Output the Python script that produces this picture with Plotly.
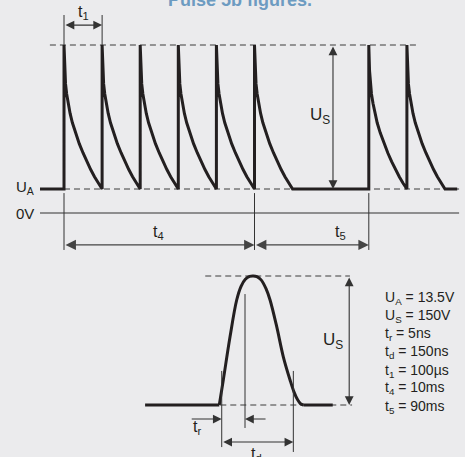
import plotly.graph_objects as go

# ---------------- data (diagram units) ----------------
# Top waveform: x in units of t1 (pulse spacing), y in diagram voltage units
pulse_starts = [0, 1, 2, 3, 4, 5, 8, 9]          # pulse start positions
level_0v = 0
level_ua = 1
level_us = 7
lead_in = -0.63                                   # where the U_A line starts
tail_end = 10.32                                  # end of waveform / 0V line
# decay shape (t normalised to t1, v normalised to U_S)
decay_t = [0, 0.02, 0.04, 0.07, 0.11, 0.16, 0.22, 0.3, 0.4, 0.5, 0.6, 0.7, 0.8, 0.9, 1.0]
decay_v = [1, 0.82, 0.73, 0.66, 0.595, 0.525, 0.46, 0.39, 0.315, 0.25, 0.19, 0.135, 0.085, 0.04, 0]

# Bottom single pulse: x normalised to t_d, y normalised to U_S
flat_left = [-1.07, -0.034]
flat_right = [1.14, 1.55]
pulse_x = [-0.034, 0.022, 0.116, 0.209, 0.27, 0.33, 0.39, 0.441, 0.49,
           0.55, 0.62, 0.675, 0.768, 0.86, 0.954, 1.01, 1.06, 1.10, 1.14]
pulse_y = [0, 0.194, 0.529, 0.814, 0.92, 0.975, 0.997, 1.0, 0.995,
           0.97, 0.90, 0.814, 0.607, 0.374, 0.194, 0.10, 0.04, 0.01, 0]
tr_end = 0.325

params = ["U<sub>A</sub> = 13.5V", "U<sub>S</sub> = 150V", "t<sub>r</sub> = 5ns",
          "t<sub>d</sub> = 150ns", "t<sub>1</sub> = 100µs", "t<sub>4</sub> = 10ms",
          "t<sub>5</sub> = 90ms"]

# ---------------- styles ----------------
BG = "#ebebed"
INK = "#231f20"
GREY = "#3a3a3a"
FONT = "Liberation Sans Narrow, Liberation Sans, Arial, sans-serif"

fig = go.Figure()

def line(xs, ys, ax="", width=1, color=GREY, dash=None, shape="linear"):
    fig.add_trace(go.Scatter(
        x=xs, y=ys, mode="lines", xaxis="x" + ax, yaxis="y" + ax,
        line=dict(color=color, width=width, dash=dash, shape=shape, smoothing=1),
        hoverinfo="skip", showlegend=False, cliponaxis=False))

DASH = "6px,4px"

# ---- top waveform ----
wx = [lead_in, pulse_starts[0]]
wy = [level_ua, level_ua]
for i, p in enumerate(pulse_starts):
    wx.append(p)
    wy.append(level_ua)
    for t, v in zip(decay_t, decay_v):
        wx.append(p + t)
        wy.append(level_ua + v * (level_us - level_ua))
wx.append(tail_end)
wy.append(level_ua)

# dashed reference lines
line([-0.37, 9.34], [level_us, level_us], dash=DASH)
line([0, tail_end + 0.05], [level_ua, level_ua], dash=DASH)
# 0V line
line([lead_in, tail_end + 0.05], [level_0v, level_0v], width=1.2, color="#333")
# waveform
line(wx, wy, width=3, color=INK)

# extension lines
for xv in [0, 1]:
    line([xv, xv], [level_us, 8.25], width=1, color="#333")
for xv in [0, 5, 8]:
    line([xv, xv], [0.83, -1.54], width=1, color="#333")

# ---- bottom pulse ----
line([-0.23, 1.79], [1, 1], ax="2", dash=DASH)
line([-0.02, 1.82], [0, 0], ax="2", dash=DASH)
line(flat_left, [0, 0], ax="2", width=3, color=INK)
line(flat_right, [0, 0], ax="2", width=3, color=INK)
line(pulse_x, pulse_y, ax="2", width=3, color=INK, shape="spline")
line([0, 0], [0.264, -0.326], ax="2", width=1, color="#333")
line([1, 1], [0.264, -0.364], ax="2", width=1, color="#333")
line([tr_end, tr_end], [0.86, -0.178], ax="2", width=1, color="#333")

# ---------------- annotations ----------------
ann = []

def arrow(x, y, ax_, ay_, xr="x", yr="y", both=False, color="#333", w=1.1):
    ann.append(dict(x=x, y=y, ax=ax_, ay=ay_, xref=xr, yref=yr, axref=xr, ayref=yr,
                    text="", showarrow=True, arrowhead=2, arrowsize=1.6, arrowwidth=w,
                    arrowcolor=color, standoff=0, startstandoff=0,
                    arrowside="end+start" if both else "end", startarrowhead=2,
                    startarrowsize=1.6))

def label(x, y, text, xr="x", yr="y", size=16, xanchor="center"):
    ann.append(dict(x=x, y=y, xref=xr, yref=yr, text=text, showarrow=False,
                    xanchor=xanchor, yanchor="middle",
                    font=dict(family=FONT, size=size, color="#231f20")))

# top arrows
arrow(1, 7.83, 0, 7.83, both=True)
arrow(5, -1.33, 0, -1.33, both=True, color="#444", w=1.3)
arrow(8, -1.33, 5, -1.33, both=True, color="#444", w=1.3)
arrow(7.06, level_ua, 7.06, level_us, both=True)
label(0.5, 8.35, "t<sub>1</sub>")
label(2.47, -0.8, "t<sub>4</sub>")
label(7.25, -0.82, "t<sub>5</sub>")
label(6.72, 4.05, "U<sub>S</sub>", size=17)
label(-0.74, level_ua + 0.05, "U<sub>A</sub>", xanchor="right", size=15)
label(-0.74, level_0v, "0V", xanchor="right", size=15)

# bottom arrows
arrow(1.78, 0, 1.78, 1, xr="x2", yr="y2", both=True)
arrow(1, -0.287, 0, -0.287, xr="x2", yr="y2", both=True)
arrow(0, -0.109, -0.44, -0.109, xr="x2", yr="y2")
arrow(tr_end, -0.109, 0.633, -0.109, xr="x2", yr="y2")
label(1.555, 0.5, "U<sub>S</sub>", xr="x2", yr="y2", size=17)
label(-0.345, -0.175, "t<sub>r</sub>", xr="x2", yr="y2")
label(0.49, -0.38, "t<sub>d</sub>", xr="x2", yr="y2")

param_y = [0.83, 0.69, 0.55, 0.41, 0.265, 0.13, -0.015]
for txt, yv in zip(params, param_y):
    label(2.25, yv, txt, xr="x2", yr="y2", size=14, xanchor="left")

# title (mostly cropped at the top edge)
ann.append(dict(x=240 / 465, y=1 - 12 / 457, xref="paper", yref="paper",
                text="<b>Pulse 5b figures.</b>", showarrow=False,
                xanchor="center", yanchor="bottom",
                font=dict(family="Liberation Sans, Arial, sans-serif", size=18,
                          color="#6d9bc1")))

hidden = dict(visible=False, showgrid=False, zeroline=False, fixedrange=True)
split = 1 - 260 / 457
fig.update_layout(
    width=465, height=457,
    margin=dict(l=0, r=0, t=0, b=0),
    paper_bgcolor=BG, plot_bgcolor=BG,
    xaxis=dict(domain=[0, 1], range=[-1.680, 10.525], **hidden),
    yaxis=dict(domain=[split, 1], range=[(213 - 260) / 24, 213 / 24], **hidden),
    xaxis2=dict(domain=[0, 1], range=[-3.096, 3.397], anchor="y2", **hidden),
    yaxis2=dict(domain=[0, split], range=[-0.403, (405 - 260) / 129], anchor="x2", **hidden),
    annotations=ann,
    showlegend=False,
)

fig.write_html("out.html", config={"displayModeBar": False},
               post_script="document.body.style.margin='0';document.body.style.overflow='hidden';")
